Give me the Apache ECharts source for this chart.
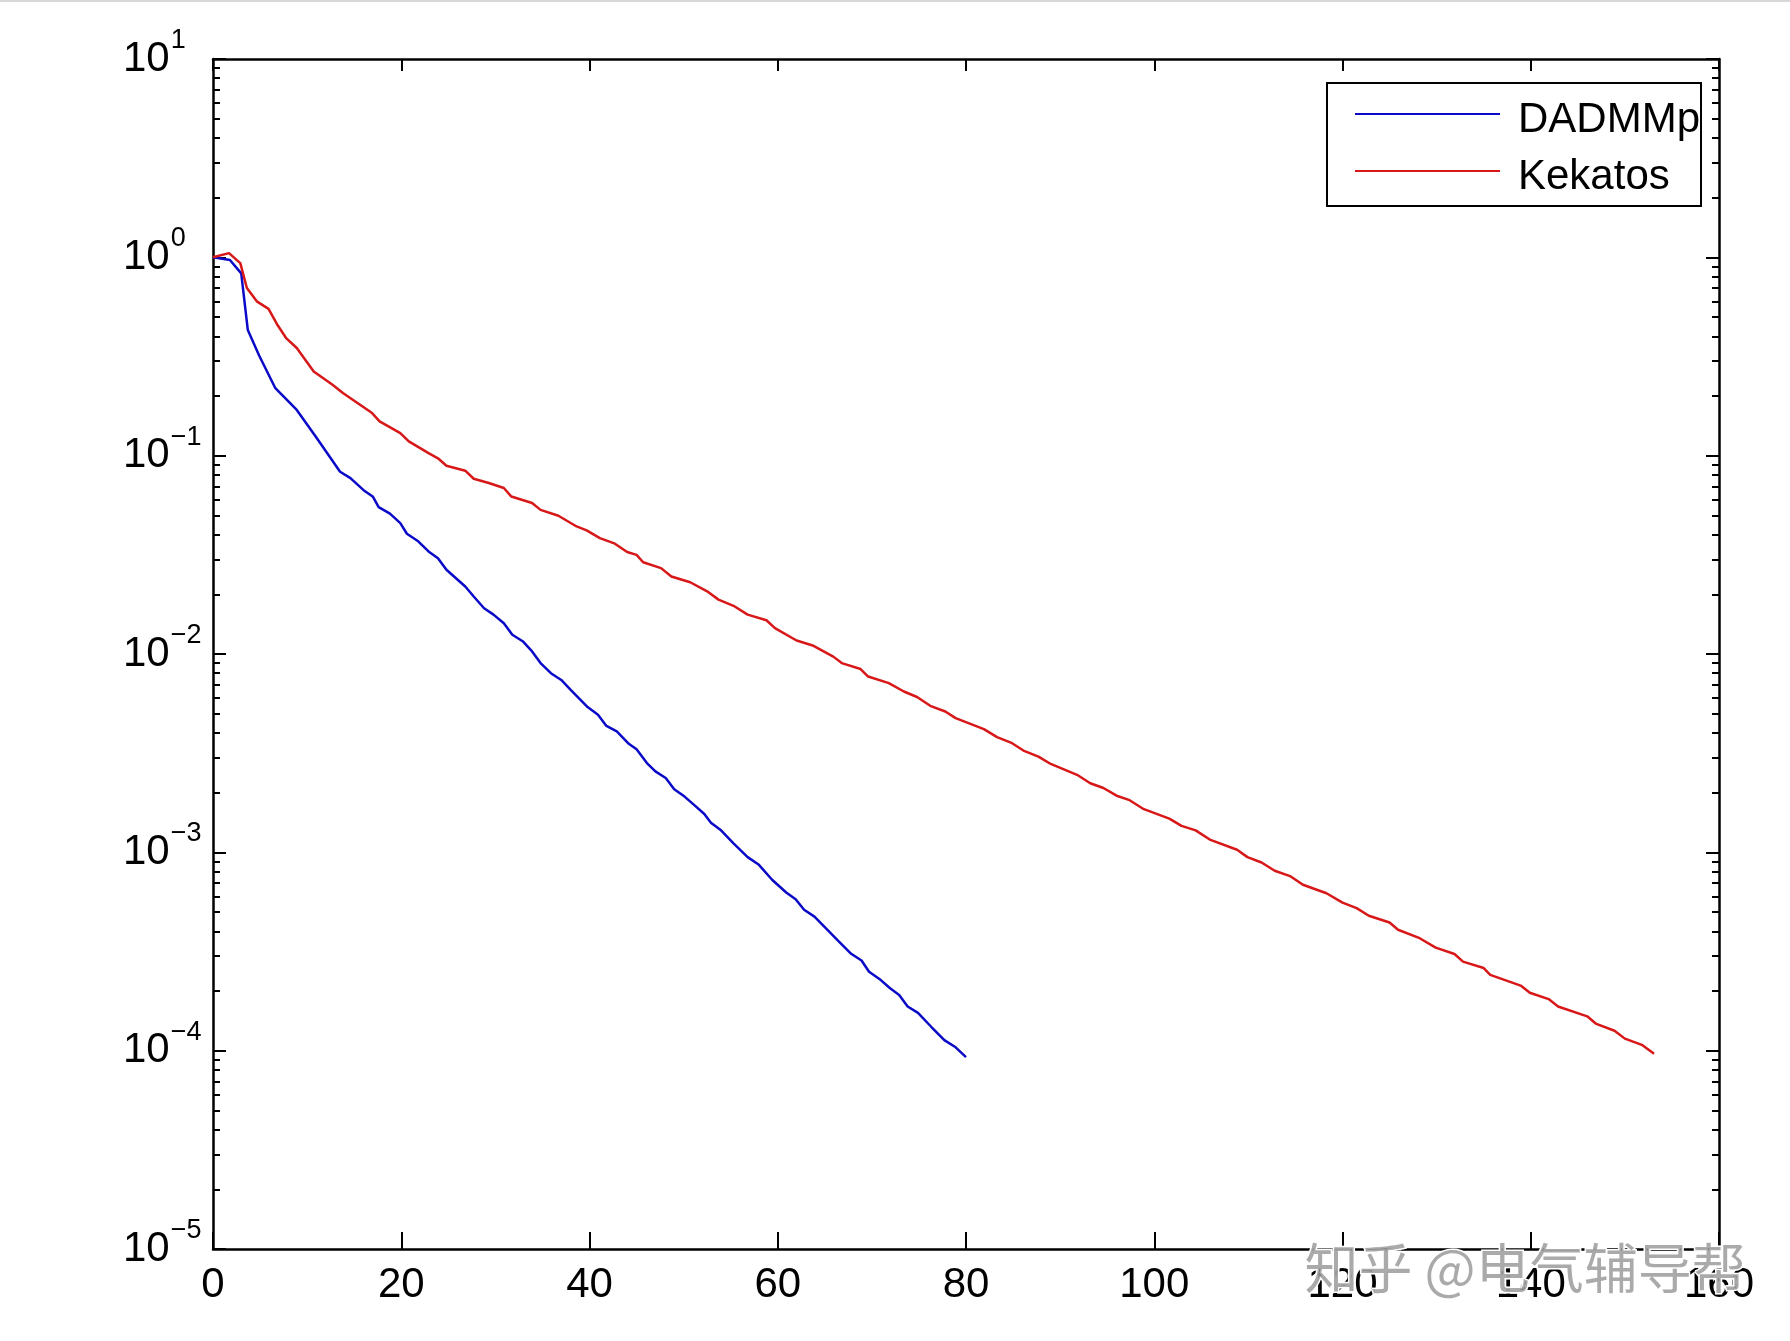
<!DOCTYPE html>
<html>
<head>
<meta charset="utf-8">
<script src="https://cdn.jsdelivr.net/npm/echarts@6/dist/echarts.min.js"></script>
<style>html,body{margin:0;padding:0;background:#fff}#c{width:1790px;height:1341px}</style>
</head>
<body>
<div id="c"></div>
<script>
// ---- data ----
const xDADMMp = [0,1.8,3.0,3.7,4.9,6.6,8.9,11.0,13.5,14.6,16.0,17.0,17.6,18.8,19.9,20.6,21.8,22.9,23.9,24.8,26.8,27.7,28.8,29.8,30.9,31.8,32.9,33.9,34.8,35.9,37.0,38.0,39.8,40.9,41.8,42.9,44.1,45.0,46.1,47.0,48.1,49.0,50.1,51.2,52.2,52.9,53.9,55.3,56.8,58.0,59.4,60.9,61.9,62.8,63.9,65.1,66.4,67.8,68.9,69.7,70.8,71.9,72.9,73.8,74.9,76.3,77.7,78.9,80.0];
const yDADMMp = [1.0,0.97,0.83,0.43,0.32,0.22,0.17,0.123,0.083,0.077,0.067,0.062,0.055,0.051,0.0457,0.0404,0.037,0.0329,0.0304,0.0266,0.0219,0.0195,0.017,0.0158,0.0143,0.0125,0.0116,0.0103,0.009,0.008,0.0074,0.0066,0.0054,0.00494,0.00434,0.00407,0.00355,0.00331,0.00282,0.00256,0.00237,0.00208,0.00191,0.00172,0.00156,0.00141,0.0013,0.00111,0.000946,0.000865,0.000727,0.000627,0.00058,0.000513,0.000474,0.000415,0.000359,0.000308,0.000285,0.00025,0.00023,0.000207,0.000191,0.000167,0.000155,0.000132,0.000113,0.000104,0.0000927];
const xKekatos = [0,1.7,2.9,3.6,4.65,5.9,6.8,7.8,8.9,10.7,12.7,13.8,16.9,17.7,19.9,20.8,22.9,23.9,24.8,26.8,27.7,29.3,30.9,31.7,33.9,34.8,36.7,38.5,39.7,41.1,42.7,44.0,45.0,45.7,47.6,48.7,50.7,52.5,53.7,55.3,56.8,58.8,59.7,62.0,63.8,65.9,66.8,68.8,69.6,71.8,73.4,74.8,76.2,77.8,78.9,81.9,83.3,84.9,86.1,87.7,89.0,91.8,93.2,94.6,96.0,97.3,98.9,101.6,102.9,104.4,105.9,108.8,109.9,111.4,112.8,114.5,115.8,118.3,120.0,121.5,122.8,125.0,125.9,128.2,129.9,131.9,132.8,135.0,135.7,139.0,139.9,141.9,142.9,146.0,146.9,148.9,150.0,151.8,153.1];
const yKekatos = [1.0,1.05,0.935,0.70,0.60,0.55,0.46,0.39,0.349,0.266,0.228,0.207,0.164,0.149,0.13,0.118,0.103,0.097,0.089,0.084,0.0765,0.0728,0.0687,0.0622,0.0577,0.0533,0.0498,0.0443,0.042,0.0384,0.036,0.0327,0.0316,0.029,0.0271,0.0246,0.023,0.0207,0.0188,0.0175,0.0158,0.0148,0.0135,0.0117,0.011,0.0097,0.009,0.0084,0.0077,0.00713,0.00647,0.00607,0.00548,0.00513,0.00475,0.00418,0.00381,0.00355,0.00326,0.00304,0.00279,0.00246,0.00223,0.00211,0.00193,0.00184,0.00165,0.00148,0.00136,0.00129,0.00116,0.00103,0.000946,0.000889,0.000807,0.000756,0.000686,0.000622,0.000558,0.000523,0.000479,0.000443,0.000407,0.000369,0.000331,0.000307,0.000281,0.000261,0.000241,0.000212,0.000196,0.000182,0.000167,0.000149,0.000137,0.000126,0.000115,0.000107,0.0000965];
const seriesNames = ['DADMMp','Kekatos'];
const xTickValues = [0,20,40,60,80,100,120,140,160];
const yDecadeExponents = [-5,-4,-3,-2,-1,0,1];
const watermarkText = '知乎 @电气辅导帮';

// ---- build ----
const FONT = '"Liberation Sans", Arial, sans-serif';
const BLUE = '#0a0ac8', RED = '#d81818';
const pairs = (xs, ys) => xs.map((x, i) => [x, ys[i]]);
const minorExps = [];
for (let e = -5; e < 1; e++) for (let k = 2; k <= 9; k++) minorExps.push(e + Math.log10(k));
const supFmt = v => {
  const e = Math.round(v);
  return '{b|10}{s|' + (e < 0 ? '\u2212' + (-e) : e) + '}';
};
const labelRich = {
  b: { fontSize: 42, fontFamily: FONT, color: '#000', lineHeight: 64, verticalAlign: 'middle' },
  s: { fontSize: 27, fontFamily: FONT, color: '#000', verticalAlign: 'top', lineHeight: 27, padding: [0, 0, 0, 1] }
};
const axisLineStyle = { color: '#000', width: 2.5 };
const expAxisBase = { type: 'value', min: -5, max: 1, splitLine: { show: false } };

const chart = echarts.init(document.getElementById('c'), null, { renderer: 'canvas' });
chart.setOption({
  backgroundColor: '#fff',
  animation: false,
  grid: { left: 213, right: 71, top: 59, bottom: 92, containLabel: false },
  xAxis: [
    { type: 'value', min: 0, max: 160, interval: 20, position: 'bottom',
      axisLine: { show: true, onZero: false, lineStyle: axisLineStyle },
      axisTick: { show: true, inside: true, length: 17, lineStyle: { color: '#000', width: 2 }, customValues: xTickValues },
      axisLabel: { fontSize: 42, fontFamily: FONT, color: '#000', margin: 15, customValues: xTickValues },
      splitLine: { show: false } },
    { type: 'value', min: 0, max: 160, interval: 20, position: 'top',
      axisLine: { show: true, onZero: false, lineStyle: axisLineStyle },
      axisTick: { show: true, inside: true, length: 12, lineStyle: { color: '#000', width: 2 } },
      axisLabel: { show: false }, splitLine: { show: false } }
  ],
  yAxis: [
    { type: 'log', logBase: 10, min: 1e-5, max: 10, position: 'left',
      axisLine: { show: false, onZero: false }, axisTick: { show: false }, axisLabel: { show: false }, splitLine: { show: false } },
    Object.assign({}, expAxisBase, { position: 'left',
      axisLine: { show: true, onZero: false, lineStyle: axisLineStyle },
      axisTick: { show: true, inside: true, length: 13, lineStyle: { color: '#000', width: 2 }, customValues: yDecadeExponents },
      axisLabel: { margin: 90, align: 'left', formatter: supFmt, rich: labelRich, customValues: yDecadeExponents } }),
    Object.assign({}, expAxisBase, { position: 'left',
      axisLine: { show: false, onZero: false },
      axisTick: { show: true, inside: true, length: 7, lineStyle: { color: '#000', width: 2 }, customValues: minorExps },
      axisLabel: { show: false } }),
    Object.assign({}, expAxisBase, { position: 'right',
      axisLine: { show: true, onZero: false, lineStyle: axisLineStyle },
      axisTick: { show: true, inside: true, length: 13, lineStyle: { color: '#000', width: 2 }, customValues: yDecadeExponents },
      axisLabel: { show: false } }),
    Object.assign({}, expAxisBase, { position: 'right',
      axisLine: { show: false, onZero: false },
      axisTick: { show: true, inside: true, length: 7, lineStyle: { color: '#000', width: 2 }, customValues: minorExps },
      axisLabel: { show: false } })
  ],
  legend: {
    data: seriesNames, orient: 'vertical', left: 1327, top: 83, icon: 'rect',
    backgroundColor: '#fff', borderColor: '#000', borderWidth: 2, borderRadius: 0,
    padding: [4, 1, 8, 28], itemGap: 3, itemWidth: 145, itemHeight: 2,
    formatter: name => '{t|' + name + '}',
    textStyle: { fontSize: 42, fontFamily: FONT, color: '#000',
      rich: { t: { fontSize: 42, fontFamily: FONT, color: '#000', lineHeight: 42, padding: [12, 0, 0, 13] } } }
  },
  series: [
    { name: seriesNames[0], type: 'line', xAxisIndex: 0, yAxisIndex: 0, data: pairs(xDADMMp, yDADMMp),
      showSymbol: false, symbol: 'none', lineStyle: { color: BLUE, width: 2.5 }, itemStyle: { color: BLUE }, z: 3 },
    { name: seriesNames[1], type: 'line', xAxisIndex: 0, yAxisIndex: 0, data: pairs(xKekatos, yKekatos),
      showSymbol: false, symbol: 'none', lineStyle: { color: RED, width: 2.5 }, itemStyle: { color: RED }, z: 3 }
  ],
  graphic: [
    { type: 'rect', left: 0, top: 0, shape: { width: 1790, height: 2 }, style: { fill: '#d8d8d8' }, silent: true },
    { type: 'text', left: 1303, top: 1240, z: 100, silent: true,
      style: { text: watermarkText, font: '54px "Noto Sans CJK SC", sans-serif', fill: 'rgba(155,155,155,0.85)', stroke: '#fff', lineWidth: 3 } }
  ]
});
</script>
</body>
</html>
